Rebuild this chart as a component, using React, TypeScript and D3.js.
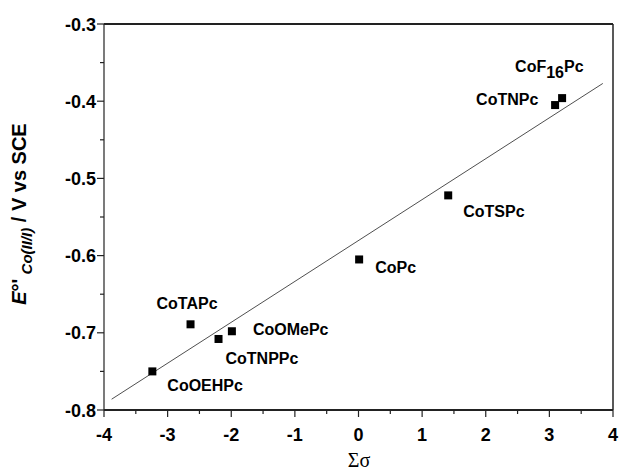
import React from "react";
import * as d3 from "d3";

const compounds = ["CoOEHPc", "CoTAPc", "CoTNPPc", "CoOMePc", "CoPc", "CoTSPc", "CoTNPc", "CoF16Pc"];
const sigma = [-3.24, -2.64, -2.2, -1.99, 0.01, 1.41, 3.09, 3.2];
const potential = [-0.75, -0.689, -0.708, -0.698, -0.605, -0.522, -0.405, -0.396];
const fitX = [-3.88, 3.84];
const fitY = [-0.786, -0.377];
const xTicks = [-4, -3, -2, -1, 0, 1, 2, 3, 4];
const xMinor = [-3.5, -2.5, -1.5, -0.5, 0.5, 1.5, 2.5, 3.5];
const yTicks = [-0.8, -0.7, -0.6, -0.5, -0.4, -0.3];
const yMinor = [-0.75, -0.65, -0.55, -0.45, -0.35];
// label offsets in pixels relative to marker (layout, not data)
const labelDx = [15, -34, 7, 21, 16, 15, -79, -47];
const labelDy = [20, -15, 25, 4, 14, 22, 0, -26];

const W = 621, H = 472;
const L = 104, R = 613, T = 24, B = 410;

export default function App() {
  const x = d3.scaleLinear().domain([-4, 4]).range([L, R]);
  const y = d3.scaleLinear().domain([-0.8, -0.3]).range([B, T]);
  const font = "'Liberation Sans', Arial, sans-serif";
  const line = d3.line<number>().x((d) => x(fitX[d])).y((d) => y(fitY[d]));
  const s = 8;
  return (
    <svg width={W} height={H} style={{ position: "absolute", left: 0, top: 0, background: "#fff" }}>
      <rect x={0} y={0} width={W} height={H} fill="#fff" />
      {/* frame */}
      <line x1={L} x2={R} y1={T} y2={T} stroke="#222" strokeWidth={2} />
      <line x1={L} x2={R} y1={B} y2={B} stroke="#222" strokeWidth={2} />
      <line x1={L} x2={L} y1={T} y2={B} stroke="#222" strokeWidth={1.2} />
      <line x1={R} x2={R} y1={T} y2={B} stroke="#222" strokeWidth={1.5} />
      {/* x ticks */}
      {xTicks.map((t) => (
        <g key={"xt" + t}>
          <line x1={x(t)} x2={x(t)} y1={B} y2={B + 7} stroke="#222" strokeWidth={1.2} />
          <text x={x(t)} y={441} textAnchor="middle" fontFamily={font} fontWeight="bold" fontSize={18}>
            {t}
          </text>
        </g>
      ))}
      {xMinor.map((t) => (
        <line key={"xm" + t} x1={x(t)} x2={x(t)} y1={B} y2={B + 4} stroke="#222" strokeWidth={1.2} />
      ))}
      {/* y ticks */}
      {yTicks.map((t) => (
        <g key={"yt" + t}>
          <line x1={L - 7} x2={L} y1={y(t)} y2={y(t)} stroke="#222" strokeWidth={1.2} />
          <text x={96} y={y(t) + 6.5} textAnchor="end" fontFamily={font} fontWeight="bold" fontSize={18}>
            {t.toFixed(1)}
          </text>
        </g>
      ))}
      {yMinor.map((t) => (
        <line key={"ym" + t} x1={L - 4} x2={L} y1={y(t)} y2={y(t)} stroke="#222" strokeWidth={1.2} />
      ))}
      {/* fit line */}
      <path d={line([0, 1]) || ""} fill="none" stroke="#222" strokeWidth={0.8} />
      {/* points */}
      {sigma.map((v, i) => (
        <rect key={"p" + i} x={x(v) - s / 2} y={y(potential[i]) - s / 2} width={s} height={s} fill="#000" />
      ))}
      {/* labels */}
      {compounds.map((c, i) => {
        const lx = x(sigma[i]) + labelDx[i];
        const ly = y(potential[i]) + labelDy[i];
        if (c === "CoF16Pc") {
          return (
            <text key={"l" + i} x={lx} y={ly} fontFamily={font} fontWeight="bold" fontSize={16}>
              CoF
              <tspan dy={6}>16</tspan>
              <tspan dy={-6}>Pc</tspan>
            </text>
          );
        }
        return (
          <text key={"l" + i} x={lx} y={ly} fontFamily={font} fontWeight="bold" fontSize={16}>
            {c}
          </text>
        );
      })}
      {/* axis titles */}
      <text x={359} y={467} textAnchor="middle" fontFamily="'Liberation Serif', 'Times New Roman', serif" fontSize={20}>
        Σσ
      </text>
      <text
        transform={`translate(26,214) rotate(-90)`}
        textAnchor="middle"
        fontFamily={font}
        fontWeight="bold"
        fontSize={20}
      >
        <tspan fontStyle="italic">E</tspan>
        <tspan>°'</tspan>
        <tspan fontStyle="italic" fontSize={15} dy={6}> Co(II/I)</tspan>
        <tspan dy={-6}> / V vs SCE</tspan>
      </text>
    </svg>
  );
}
